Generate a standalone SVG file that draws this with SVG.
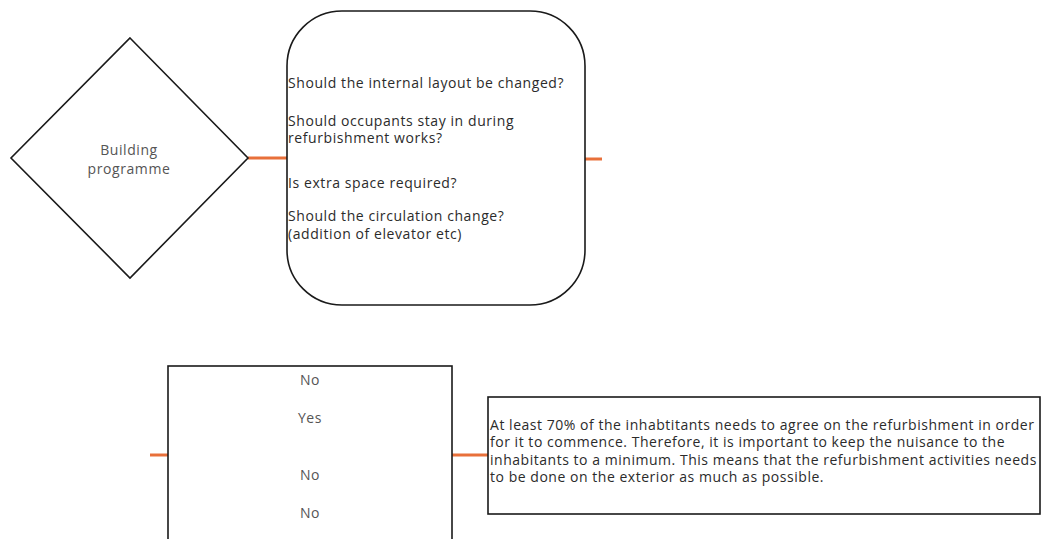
<svg xmlns="http://www.w3.org/2000/svg" width="1042" height="539" viewBox="0 0 1042 539">
  <style>
    .shape { fill: #ffffff; stroke: #1a1a1a; stroke-width: 1.6; }
    .link { stroke: #e8703a; stroke-width: 3; fill: none; }
    .label { font-family: "Open Sans", "Liberation Sans", sans-serif; font-size: 14px; letter-spacing: 0.58px; fill: #2b2b2b; }
    .note-text { letter-spacing: 0.53px; }
    .soft { fill: #555555; }
    .mid { text-anchor: middle; }
  </style>
  <rect width="1042" height="539" fill="#ffffff"/>

  <!-- connectors -->
  <g id="connectors">
    <line class="link" x1="248" y1="158" x2="288" y2="158"/>
    <line class="link" x1="585" y1="159" x2="602" y2="159"/>
    <line class="link" x1="150" y1="455" x2="168" y2="455"/>
    <line class="link" x1="452" y1="455" x2="488" y2="455"/>
  </g>

  <!-- decision diamond -->
  <g id="building-programme">
    <polygon class="shape" points="130,38 248,158 130,278 11,158"/>
    <text class="label soft mid" x="129" y="155">Building</text>
    <text class="label soft mid" x="129" y="174">programme</text>
  </g>

  <!-- questions -->
  <g id="questions">
    <rect class="shape" x="287" y="11" width="298" height="294" rx="55" ry="55"/>
    <text class="label" x="288" y="88">Should the internal layout be changed?</text>
    <text class="label" x="288" y="126">Should occupants stay in during</text>
    <text class="label" x="288" y="143">refurbishment works?</text>
    <text class="label" x="288" y="188">Is extra space required?</text>
    <text class="label" x="288" y="221">Should the circulation change?</text>
    <text class="label" x="288" y="239">(addition of elevator etc)</text>
  </g>

  <!-- answers -->
  <g id="answers">
    <rect class="shape" x="168" y="366" width="284" height="190" fill="#fdfcfb"/>
    <text class="label soft mid" x="310" y="385">No</text>
    <text class="label soft mid" x="310" y="423">Yes</text>
    <text class="label soft mid" x="310" y="480">No</text>
    <text class="label soft mid" x="310" y="518">No</text>
  </g>

  <!-- note -->
  <g id="note">
    <rect class="shape" x="488" y="397" width="552" height="117"/>
    <text class="label note-text" x="490" y="430">At least 70% of the inhabtitants needs to agree on the refurbishment in order</text>
    <text class="label note-text" x="490" y="447">for it to commence. Therefore, it is important to keep the nuisance to the</text>
    <text class="label note-text" x="490" y="465">inhabitants to a minimum. This means that the refurbishment activities needs</text>
    <text class="label note-text" x="490" y="482">to be done on the exterior as much as possible.</text>
  </g>
</svg>
